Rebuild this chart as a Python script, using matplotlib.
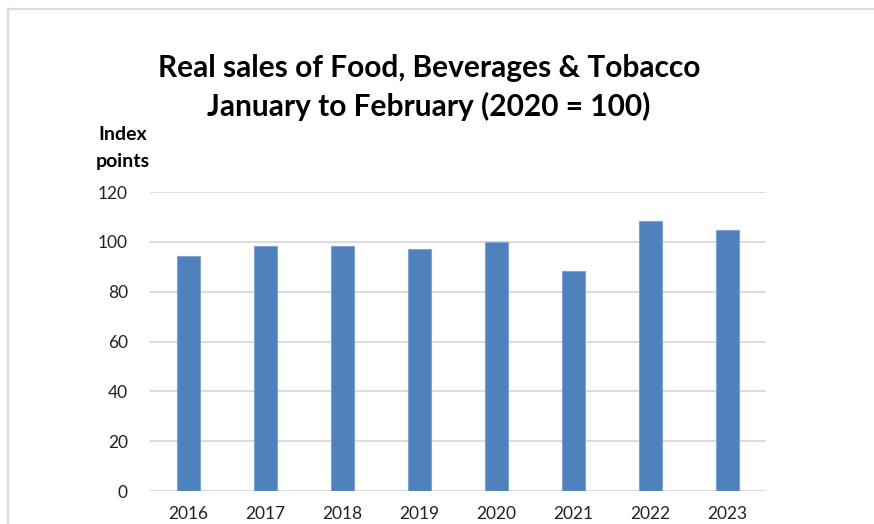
import matplotlib
matplotlib.use("Agg")
from matplotlib import pyplot as plt
from matplotlib.lines import Line2D

years = ['2016', '2017', '2018', '2019', '2020', '2021', '2022', '2023']
index_values = [94.4, 98.5, 98.5, 97.0, 100.0, 88.1, 108.3, 104.8]
yticks = [0, 20, 40, 60, 80, 100, 120]

plt.rcParams['font.family'] = ['Lato', 'DejaVu Sans']

fig = plt.figure(figsize=(8.74, 5.24), dpi=100)
ax = fig.add_axes([150/874, 1-491/524, 616/874, 299/524])

ax.bar(range(len(years)), index_values, width=0.3, color='#4f81bd',
       edgecolor='#7fa3d3', linewidth=0.8, zorder=3)
ax.set_xlim(-0.5, len(years) - 0.5)
ax.set_ylim(0, 120)
ax.set_yticks(yticks)
ax.set_xticks(range(len(years)))
ax.set_xticklabels(years)
ax.yaxis.grid(True, color='#d9d9d9', linewidth=1.3, zorder=0)
for s in ax.spines.values():
    s.set_visible(False)
ax.tick_params(axis='both', length=0, labelsize=12.5, colors='#222222')
ax.tick_params(axis='y', pad=16)
ax.tick_params(axis='x', pad=11)

fig.text(0.491, 1-68/524, 'Real sales of Food, Beverages & Tobacco',
         ha='center', va='center', fontsize=21.5, fontweight='bold')
fig.text(0.491, 1-106/524, 'January to February (2020 = 100)',
         ha='center', va='center', fontsize=21.5, fontweight='bold')
fig.text(123/874, 1-135/524, 'Index', ha='center', va='center',
         fontsize=14, fontweight='bold')
fig.text(123/874, 1-162/524, 'points', ha='center', va='center',
         fontsize=14, fontweight='bold')

# light chart-area frame
fig.add_artist(Line2D([8/874, 8/874], [0, 1-8.5/524], transform=fig.transFigure,
                      color='#dcdcdc', linewidth=1.6))
fig.add_artist(Line2D([8/874, 1], [1-8.5/524, 1-8.5/524], transform=fig.transFigure,
                      color='#dcdcdc', linewidth=1.6))

fig.savefig('out.png', dpi=100)
